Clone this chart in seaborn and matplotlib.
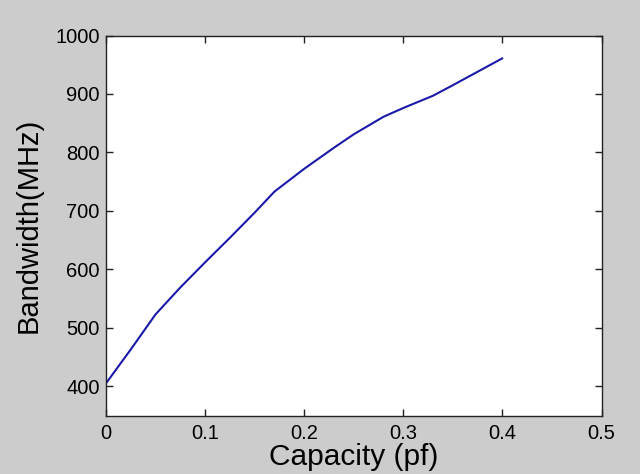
import matplotlib
matplotlib.use("Agg")
import matplotlib.pyplot as plt
import seaborn as sns
import pandas as pd

capacity = [0.0, 0.025, 0.05, 0.075, 0.1, 0.125, 0.15, 0.17, 0.2, 0.23,
            0.25, 0.28, 0.3, 0.33, 0.35, 0.375, 0.4]
bandwidth = [405, 463, 523, 569, 612, 654, 697, 733, 772, 808,
             831, 861, 876, 897, 915, 938, 961]
x_ticks = [0, 0.1, 0.2, 0.3, 0.4, 0.5]
x_tick_labels = ["0", "0.1", "0.2", "0.3", "0.4", "0.5"]
y_ticks = [400, 500, 600, 700, 800, 900, 1000]

sns.set_theme(style="ticks")
plt.rcParams['font.family'] = ['Liberation Sans', 'DejaVu Sans']

df = pd.DataFrame({"Capacity": capacity, "Bandwidth": bandwidth})

fig = plt.figure(figsize=(6.4, 4.74), dpi=100, facecolor="#cccccc")
ax = fig.add_axes([106/640, 1 - 415.5/474, (601.5-106)/640, (415.5-35.5)/474])
ax.set_facecolor("white")

sns.lineplot(data=df, x="Capacity", y="Bandwidth", ax=ax, color="#1a1aaa", linewidth=1.5)

ax.set_xlim(0, 0.5)
ax.set_ylim(350, 1000)
ax.set_xticks(x_ticks)
ax.set_xticklabels(x_tick_labels)
ax.set_yticks(y_ticks)
ax.tick_params(direction="in", length=5, width=1, colors="#222222", labelsize=14.5,
               top=True, right=True, labelcolor="black")
ax.tick_params(axis="y", pad=4.5)
ax.tick_params(axis="x", pad=6)
for s in ax.spines.values():
    s.set_color("#222222")
    s.set_linewidth(1)
ax.set_xlabel("Capacity (pf)", fontsize=21.5, labelpad=0, color="black")
ax.set_ylabel("Bandwidth(MHz)", fontsize=21, labelpad=9, color="black")

fig.savefig("out.png", dpi=100, facecolor=fig.get_facecolor())
